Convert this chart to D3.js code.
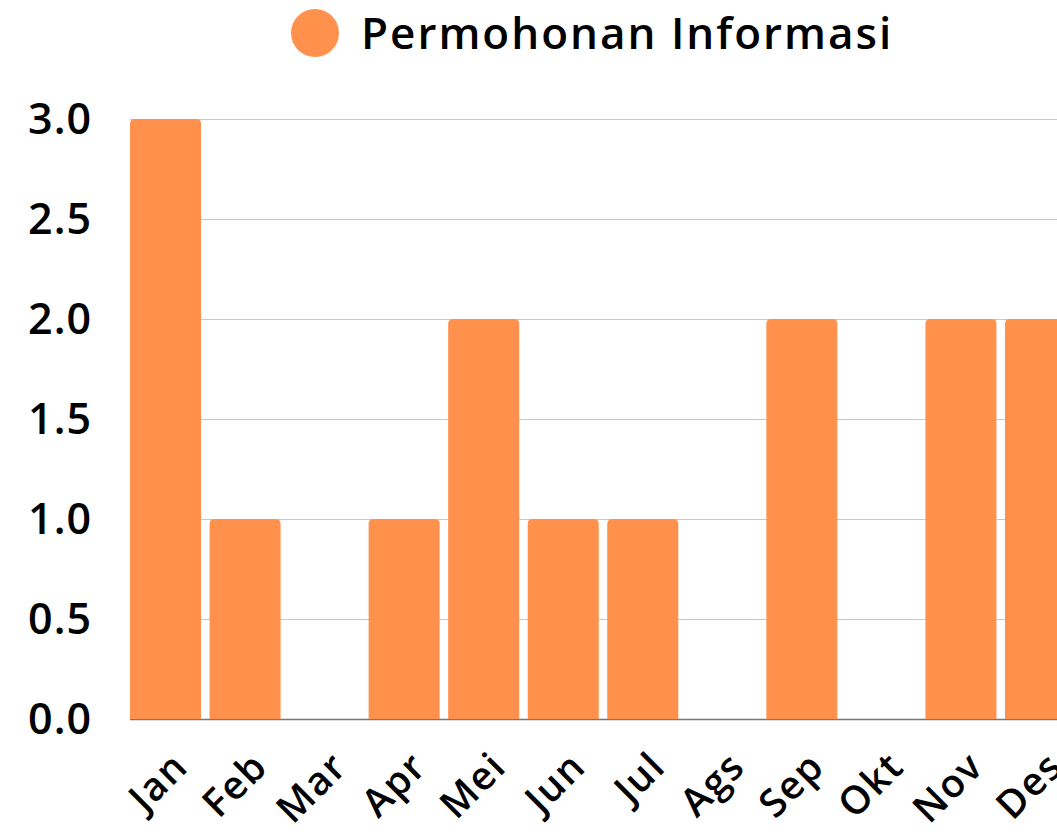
<!DOCTYPE html>
<html>
<head>
<meta charset="utf-8">
<script src="https://d3js.org/d3.v7.min.js"></script>
<style>
  body { margin: 0; background: #fff; }
  text { font-family: "Open Sans", "Noto Sans", sans-serif; font-weight: 600; fill: #000; }
</style>
</head>
<body>
<div id="chart"></div>
<script>
// data
var months = ["Jan", "Feb", "Mar", "Apr", "Mei", "Jun", "Jul", "Ags", "Sep", "Okt", "Nov", "Des"];
var requests = [3, 1, 0, 1, 2, 1, 1, 0, 2, 0, 2, 2];
var yTicks = [0, 0.5, 1, 1.5, 2, 2.5, 3];
var seriesName = "Permohonan Informasi";
var barColor = "#FF914D";

var width = 1057, height = 835;

var rows = months.map(function(m, i) { return {month: m, value: requests[i]}; });

var svg = d3.select("#chart").append("svg")
  .attr("width", width)
  .attr("height", height);

var x = d3.scaleBand()
  .domain(months)
  .range([130, 1076])
  .paddingInner(0.107)
  .paddingOuter(0);

var y = d3.scaleLinear()
  .domain([0, 3])
  .range([719, 119]);

// gridlines
svg.append("g")
  .selectAll("line")
  .data(yTicks.filter(function(d) { return d > 0; }))
  .enter().append("line")
    .attr("x1", 130)
    .attr("x2", width)
    .attr("y1", function(d) { return y(d) + 0.5; })
    .attr("y2", function(d) { return y(d) + 0.5; })
    .attr("stroke", "#c8c8c8")
    .attr("stroke-width", 1);

// baseline
svg.append("line")
  .attr("x1", 130).attr("x2", width)
  .attr("y1", y(0) + 0.5).attr("y2", y(0) + 0.5)
  .attr("stroke", "#777")
  .attr("stroke-width", 1.5);

// bars with rounded tops
function barPath(d) {
  var x0 = x(d.month), w = x.bandwidth();
  var top = y(d.value), bottom = y(0), r = Math.min(5, (bottom - top) / 2);
  return "M" + x0 + "," + bottom +
    "V" + (top + r) +
    "Q" + x0 + "," + top + " " + (x0 + r) + "," + top +
    "H" + (x0 + w - r) +
    "Q" + (x0 + w) + "," + top + " " + (x0 + w) + "," + (top + r) +
    "V" + bottom + "Z";
}

svg.append("g")
  .selectAll("path")
  .data(rows.filter(function(d) { return d.value > 0; }))
  .enter().append("path")
    .attr("d", barPath)
    .attr("fill", barColor);

// y axis labels
svg.append("g")
  .selectAll("text")
  .data(yTicks)
  .enter().append("text")
    .attr("x", 92)
    .attr("y", function(d) { return y(d); })
    .attr("dy", "0.36em")
    .attr("text-anchor", "end")
    .style("font-size", "43px")
    .style("letter-spacing", "1px")
    .text(function(d) { return d3.format(".1f")(d); });

// x axis labels
svg.append("g")
  .selectAll("text")
  .data(months)
  .enter().append("text")
    .attr("text-anchor", "end")
    .attr("transform", function(d) {
      return "translate(" + (x(d) + x.bandwidth() / 2 + 4) + ",748) rotate(-45)";
    })
    .attr("dy", "0.75em")
    .style("font-size", "39px")
    .style("letter-spacing", "1.5px")
    .text(function(d) { return d; });

// legend
var legend = svg.append("g");
legend.append("circle")
  .attr("cx", 315).attr("cy", 33).attr("r", 24)
  .attr("fill", barColor);
legend.append("text")
  .attr("x", 361).attr("y", 49)
  .style("font-size", "44px")
  .style("letter-spacing", "2px")
  .text(seriesName);
</script>
</body>
</html>
